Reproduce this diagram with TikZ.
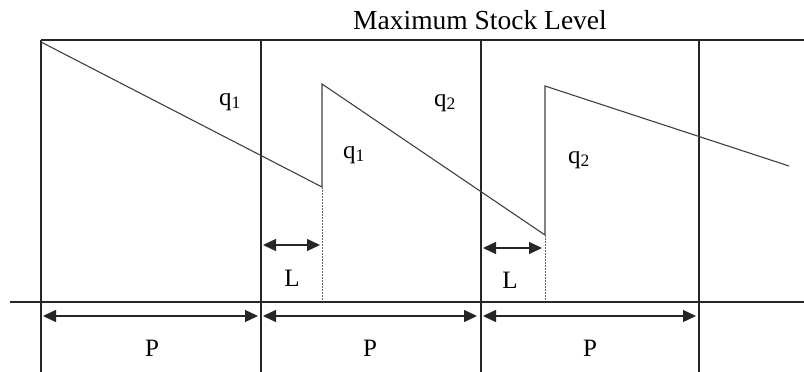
\documentclass[tikz,border=0pt]{standalone}
\usepackage{fontspec}
\setmainfont{Liberation Serif}
\usetikzlibrary{arrows.meta}

\begin{document}
\begin{tikzpicture}[
    x=1pt, y=-1pt,
    grid/.style={line width=1.2pt, black!85},
    stock/.style={line width=1.1pt, black!75},
    lead/.style={line width=1pt, black!60, dash pattern=on 2pt off 1pt},
    span/.style={line width=1.3pt, black!85, {Triangle[length=13pt,width=12pt]}-{Triangle[length=13pt,width=12pt]}},
    lbl/.style={inner sep=0pt, anchor=base, font=\fontsize{25}{30}\selectfont}
]
\useasboundingbox (0,0) rectangle (804,372);

% frame
\coordinate (t0) at (41,40);
\coordinate (t1) at (261,40);
\coordinate (t2) at (481,40);
\coordinate (t3) at (699,40);
\coordinate (tend) at (804,40);
\coordinate (b0) at (41,372);
\coordinate (b1) at (261,372);
\coordinate (b2) at (481,372);
\coordinate (b3) at (699,372);
\coordinate (a0) at (10,302);
\coordinate (aend) at (804,302);

\draw[grid] (t0) -- (tend);
\draw[grid] (a0) -- (aend);
\draw[grid] (t0) -- (b0);
\draw[grid] (t1) -- (b1);
\draw[grid] (t2) -- (b2);
\draw[grid] (t3) -- (b3);

% stock curve
\coordinate (s0) at (41,42);
\coordinate (s1) at (322,187);
\coordinate (s2) at (322,84);
\coordinate (s3) at (545,235);
\coordinate (s4) at (545,86);
\coordinate (s5) at (789,166);
\draw[stock] (s0) -- (s1) -- (s2) -- (s3) -- (s4) -- (s5);

% lead time marks
\coordinate (d1) at (322,300);
\coordinate (d2) at (545,300);
\draw[lead] (s1) -- (d1);
\draw[lead] (s3) -- (d2);

\coordinate (l1a) at (263,245);
\coordinate (l1b) at (320,245);
\coordinate (l2a) at (483,248);
\coordinate (l2b) at (542,248);
\draw[span] (l1a) -- (l1b);
\draw[span] (l2a) -- (l2b);

% periods
\coordinate (p1a) at (43,316);
\coordinate (p1b) at (258,316);
\coordinate (p2a) at (263,316);
\coordinate (p2b) at (477,316);
\coordinate (p3a) at (483,316);
\coordinate (p3b) at (696,316);
\draw[span] (p1a) -- (p1b);
\draw[span] (p2a) -- (p2b);
\draw[span] (p3a) -- (p3b);

% labels
\node[lbl, font=\fontsize{27.5}{32}\selectfont] (title) at (480,30) {Maximum Stock Level};
\node[lbl] (qa) at (230,105) {q\textsubscript{1}};
\node[lbl] (qb) at (354,158) {q\textsubscript{1}};
\node[lbl] (qc) at (445,106) {q\textsubscript{2}};
\node[lbl] (qd) at (579,163) {q\textsubscript{2}};
\node[lbl] (la) at (292,286) {L};
\node[lbl] (lb) at (510,288) {L};
\node[lbl] (pa) at (152,356) {P};
\node[lbl] (pb) at (370,356) {P};
\node[lbl] (pc) at (590,356) {P};
\end{tikzpicture}
\end{document}
